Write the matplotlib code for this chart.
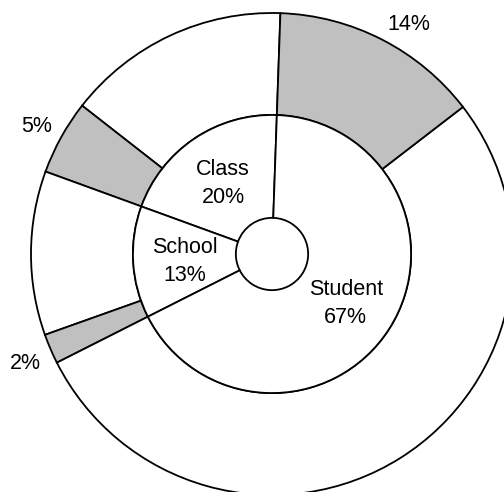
import numpy as np
import matplotlib.pyplot as plt

plt.rcParams['font.family'] = ['Liberation Sans', 'DejaVu Sans']

# inner ring: share of each level
levels = ['Class', 'School', 'Student']
level_pct = [20, 13, 67]

# outer ring: each level split into an unshaded and a shaded part
outer_plain = [15, 11, 53]
outer_shaded = [5, 2, 14]

HOLE = 0.15
MID = 0.577

fig = plt.figure(figsize=(5.04, 4.92), dpi=100)
ax = fig.add_axes([0, 0, 1, 1])

outer_vals = []
outer_cols = []
for p, s in zip(outer_plain, outer_shaded):
    outer_vals += [p, s]
    outer_cols += ['white', '#c0c0c0']

wedge_kw = dict(edgecolor='black', linewidth=1.3)
outer, _ = ax.pie(outer_vals, radius=1.0, colors=outer_cols, startangle=88,
                  counterclock=True, wedgeprops=dict(width=1.0 - MID, **wedge_kw))
inner, _ = ax.pie(level_pct, radius=MID, colors=['white'] * 3, startangle=88,
                  counterclock=True, wedgeprops=dict(width=MID - HOLE, **wedge_kw))

# level names in the middle of the inner ring
r_lab = (MID + HOLE) / 2
for w, name, pct in zip(inner, levels, level_pct):
    a = np.deg2rad((w.theta1 + w.theta2) / 2)
    ax.text(r_lab * np.cos(a), r_lab * np.sin(a) - 0.01, f'{name}\n{pct}%',
            ha='center', va='center', fontsize=15.5, linespacing=1.45)

# percentages just outside the shaded parts
for w, v in zip(outer[1::2], outer_shaded):
    a = np.deg2rad((w.theta1 + w.theta2) / 2)
    x, y = 1.045 * np.cos(a), 1.045 * np.sin(a)
    ax.text(x, y, f'{v}%', ha='left' if x > 0 else 'right',
            va='baseline' if y > 0 else 'top', fontsize=15.5)

ax.set_aspect('equal')
ax.set_xlim(-272 / 241, 232 / 241)
ax.set_ylim(-238 / 241, 254 / 241)
ax.axis('off')

fig.savefig('out.png', dpi=100)
